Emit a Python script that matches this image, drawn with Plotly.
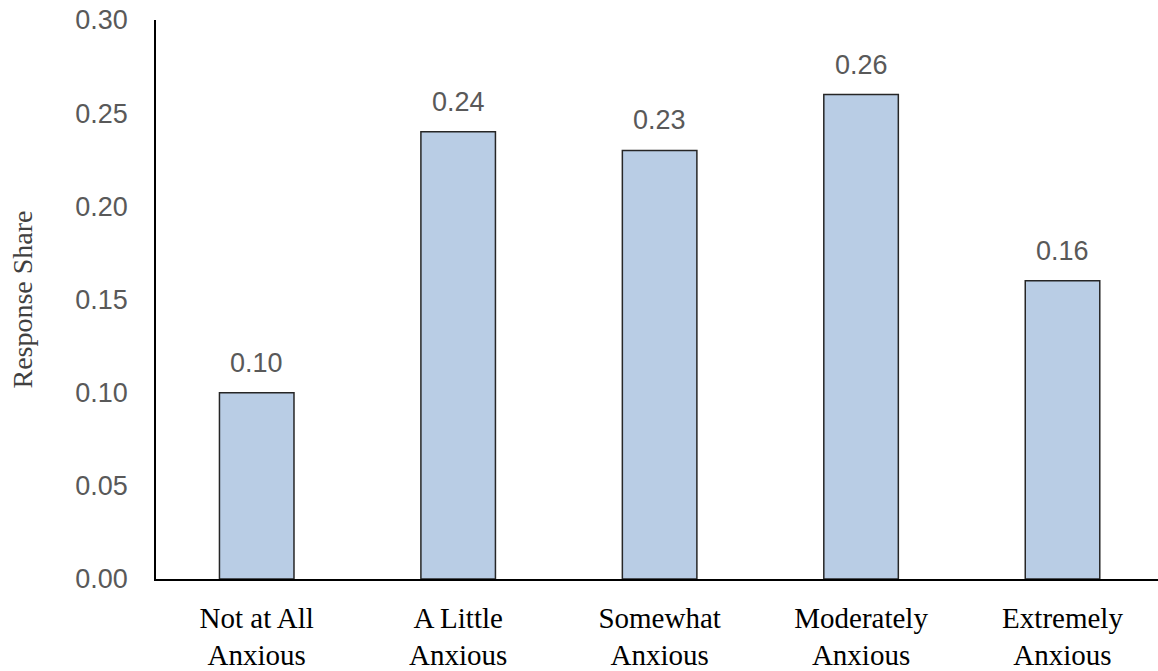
import plotly.graph_objects as go

categories = ["Not at All<br>Anxious", "A Little<br>Anxious", "Somewhat<br>Anxious",
              "Moderately<br>Anxious", "Extremely<br>Anxious"]
shares = [0.10, 0.24, 0.23, 0.26, 0.16]
y_ticks = [0.00, 0.05, 0.10, 0.15, 0.20, 0.25, 0.30]

sans = "Liberation Sans, Arial, sans-serif"
serif = "Liberation Serif, Times New Roman, serif"

fig = go.Figure(
    go.Bar(
        x=categories,
        y=shares,
        width=0.37,
        marker=dict(color="#B9CDE5", line=dict(color="#262626", width=1.5)),
        hoverinfo="skip",
    )
)

# value labels above each bar
for cat, val in zip(categories, shares):
    fig.add_annotation(
        x=cat, y=val, text=f"{val:.2f}", showarrow=False,
        yanchor="bottom", yshift=13,
        font=dict(family=sans, size=27, color="#595959"),
    )

fig.update_layout(
    width=1158, height=671,
    margin=dict(l=156, r=0, t=20, b=90),
    paper_bgcolor="white", plot_bgcolor="white",
    showlegend=False,
    xaxis=dict(
        range=[-0.5, 4.474],
        showline=True, linecolor="black", linewidth=1.5,
        showgrid=False, ticks="",
        tickfont=dict(family=serif, size=29, color="black"),
        ticklabelstandoff=12,
    ),
    yaxis=dict(
        range=[0, 0.30],
        tickvals=y_ticks,
        ticktext=[f"{v:.2f}" for v in y_ticks],
        showline=True, linecolor="black", linewidth=1.5,
        showgrid=False, ticks="", zeroline=False,
        tickfont=dict(family=sans, size=27, color="#595959"),
        ticklabelstandoff=21,
        title=dict(text="Response Share", standoff=34,
                   font=dict(family=serif, size=28, color="#404040")),
    ),
)

fig.write_html("out.html")
